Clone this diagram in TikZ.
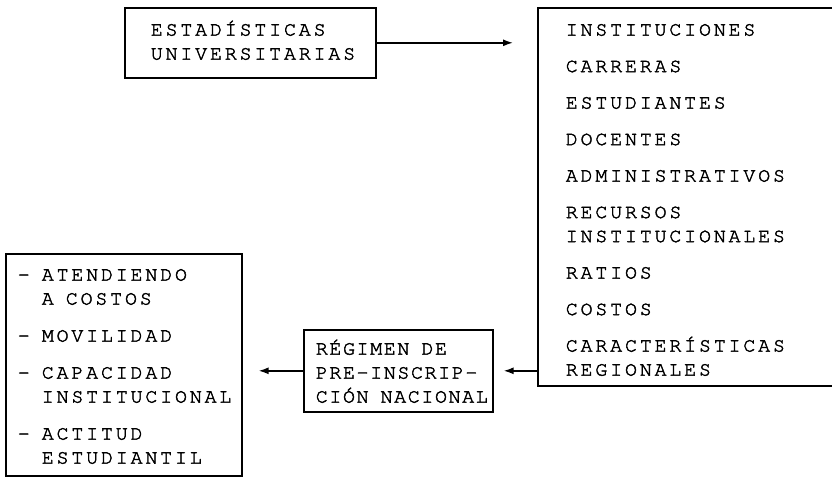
\documentclass[tikz,border=0pt]{standalone}
\usepackage{fontspec}
\usetikzlibrary{calc}
\usetikzlibrary{positioning}
\usetikzlibrary{arrows.meta}
\newfontfamily\maquina{texgyrecursor-regular.otf}[LetterSpace=14, FakeBold=2]
\newfontfamily\maquinaestrecha{texgyrecursor-regular.otf}[LetterSpace=8, FakeBold=2]
\newcommand{\arriba}[1]{\rule{0pt}{#1}}
\newcommand{\abajo}[1]{\rule[-#1]{0pt}{#1}}
\newcommand{\blanco}{\hphantom{X}}
\tikzset{
    caja/.style={
        rectangle,          % 方框
        draw,               % 边框
        line width=1.6pt,
        anchor=north west,  % 左上角定位
        inner ysep=0pt,
        align=left,
        font=\fontsize{20}{24}\selectfont\maquina
    },
    flecha/.style={
        line width=1.5pt,
        -{Latex[length=10pt,width=7pt]}
    }
}

\begin{document}
\begin{tikzpicture}[x=1pt, y=-1pt]
\useasboundingbox (0,0) rectangle (832,477);

\def\gap{12.5pt}
\def\gapb{13pt}

% 定义点
\coordinate (C1) at (124,7);
\coordinate (C2) at (537,7);
\coordinate (C3) at (303,329);
\coordinate (C4) at (5,253);

\node[caja, inner xsep=26pt, text width=199pt] (est) at (C1)
    {\arriba{27.8pt}ESTADÍSTICAS\\UNIVERSITARIAS\abajo{18.2pt}};

\node[caja, inner xsep=28pt, text width=267pt] (rb) at (C2)
    {\arriba{27.8pt}INSTITUCIONES\\[\gap]
     CARRERAS\\[\gap]
     ESTUDIANTES\\[\gap]
     DOCENTES\\[\gap]
     ADMINISTRATIVOS\\[\gap]
     RECURSOS\\
     INSTITUCIONALES\\[\gap]
     RATIOS\\[\gap]
     COSTOS\\[\gap]
     CARACTERÍSTICAS\\
     REGIONALES\abajo{10.2pt}};

\node[caja, inner xsep=12pt, text width=165pt,
      font=\fontsize{20}{24}\selectfont\maquinaestrecha] (pre) at (C3)
    {\arriba{24.8pt}RÉGIMEN\blanco{}DE\\PRE-INSCRIP-\\CIÓN\blanco{}NACIONAL\abajo{9.2pt}};

\node[caja, inner xsep=12pt, text width=212pt] (lst) at (C4)
    {\arriba{26.8pt}-\blanco{}ATENDIENDO\\
     \blanco\blanco{}A\blanco{}COSTOS\\[\gapb]
     -\blanco{}MOVILIDAD\\[\gapb]
     -\blanco{}CAPACIDAD\\
     \blanco\blanco{}INSTITUCIONAL\\[\gapb]
     -\blanco{}ACTITUD\\
     \blanco\blanco{}ESTUDIANTIL\abajo{12.2pt}};

% 箭头
\draw[flecha, shorten >=24pt] (est.east) -- (est.east -| rb.west);
\draw[flecha, shorten >=10pt] (pre.east -| rb.west) -- (pre.east);
\draw[flecha, shorten >=16pt] (pre.west) -- (pre.west -| lst.east);

\end{tikzpicture}
\end{document}
